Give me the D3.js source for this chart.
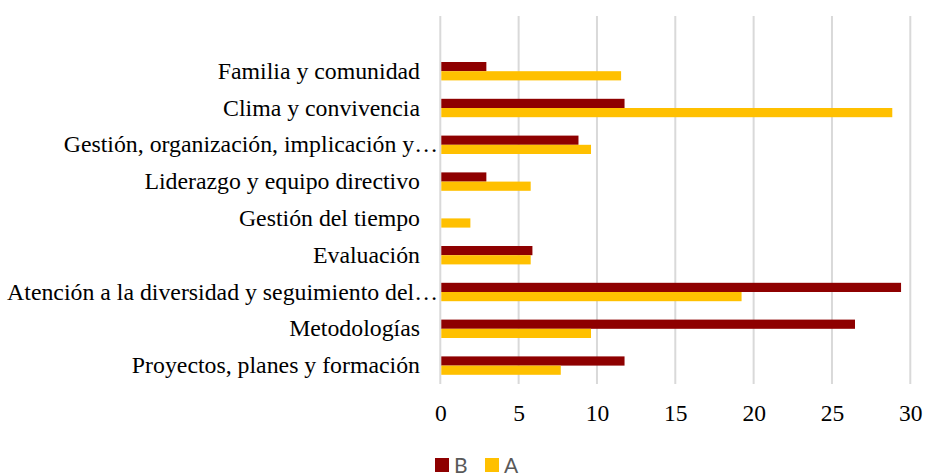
<!DOCTYPE html>
<html>
<head>
<meta charset="utf-8">
<script src="https://cdn.jsdelivr.net/npm/d3@7"></script>
<style>
  html, body { margin: 0; padding: 0; background: #fff; }
  svg { display: block; }
</style>
</head>
<body>
<svg id="chart" width="925" height="475"></svg>
<script>
// Categories listed top to bottom, as they appear on the axis
const categories = [
  "Familia y comunidad",
  "Clima y convivencia",
  "Gestión, organización, implicación y…",
  "Liderazgo y equipo directivo",
  "Gestión del tiempo",
  "Evaluación",
  "Atención a la diversidad y seguimiento del…",
  "Metodologías",
  "Proyectos, planes y formación"
];
const seriesNames = ["B", "A"];
const valuesB = [2.94, 11.76, 8.82, 2.94, 0, 5.88, 29.41, 26.47, 11.76];
const valuesA = [11.54, 28.85, 9.62, 5.77, 1.92, 5.77, 19.23, 9.62, 7.69];
const xTicks = [0, 5, 10, 15, 20, 25, 30];
const colors = { B: "#8E0000", A: "#FFC000" };

const svg = d3.select("#chart");

const x = d3.scaleLinear().domain([0, 30]).range([440.3, 910.3]);
const plotTop = 16, plotBottom = 384;
const bandStep = (plotBottom - plotTop) / (categories.length + 1);
const y = d3.scaleBand()
  .domain(categories)
  .range([plotTop + bandStep, plotBottom])
  .paddingInner(0).paddingOuter(0);
const inner = d3.scaleBand()
  .domain(seriesNames)
  .range([y.bandwidth() / 4, y.bandwidth() * 3 / 4]);

// Vertical gridlines
svg.append("g")
  .selectAll("line")
  .data(xTicks)
  .join("line")
  .attr("x1", d => x(d)).attr("x2", d => x(d))
  .attr("y1", plotTop).attr("y2", plotBottom)
  .attr("stroke", "#D9D9D9")
  .attr("stroke-width", 2);

// Bars
const rows = categories.map((c, i) => ({ cat: c, B: valuesB[i], A: valuesA[i] }));
const groups = svg.append("g")
  .selectAll("g")
  .data(rows)
  .join("g")
  .attr("transform", d => `translate(0,${y(d.cat)})`);

groups.selectAll("rect")
  .data(d => seriesNames.map(s => ({ s, v: d[s] })))
  .join("rect")
  .attr("x", x(0) + 1)
  .attr("y", d => inner(d.s))
  .attr("width", d => Math.max(0, x(d.v) - x(0) - 1))
  .attr("height", inner.bandwidth())
  .attr("fill", d => colors[d.s]);

// Value axis tick labels
const xAxis = d3.axisBottom(x).tickValues(xTicks).tickSize(0).tickPadding(0).tickFormat(d3.format("d"));
const gx = svg.append("g")
  .attr("transform", `translate(0,${plotBottom + 37})`)
  .call(xAxis);
gx.select(".domain").remove();
gx.selectAll("text")
  .attr("dy", 0)
  .attr("font-family", "'Liberation Serif', 'Times New Roman', serif")
  .attr("font-size", 23.5)
  .attr("fill", "#000");

// Category labels
svg.append("g")
  .selectAll("text")
  .data(categories)
  .join("text")
  .attr("x", d => d.endsWith("…") ? 438 : 420)
  .attr("y", d => y(d) + y.bandwidth() / 2 + 7.5)
  .attr("text-anchor", "end")
  .attr("font-family", "'Liberation Serif', 'Times New Roman', serif")
  .attr("font-size", 23.8)
  .attr("fill", "#000")
  .text(d => d);

// Legend
const legend = svg.append("g").attr("transform", "translate(435,458)");
const items = legend.selectAll("g")
  .data(seriesNames)
  .join("g")
  .attr("transform", (d, i) => `translate(${i * 50},0)`);
items.append("rect")
  .attr("width", 14).attr("height", 14)
  .attr("fill", d => colors[d]);
items.append("text")
  .attr("x", 19).attr("y", 14.5)
  .attr("font-family", "Lato, 'Open Sans', sans-serif")
  .attr("font-size", 21)
  .attr("fill", "#595959")
  .text(d => d);
</script>
</body>
</html>
